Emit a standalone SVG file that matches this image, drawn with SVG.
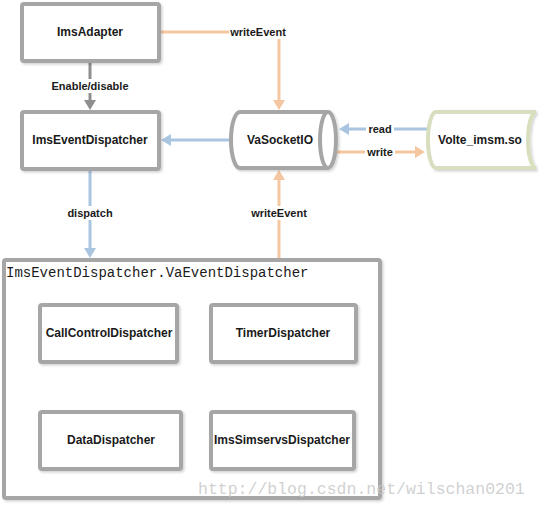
<svg xmlns="http://www.w3.org/2000/svg" width="539" height="511" viewBox="0 0 539 511">
<style>
.box{fill:#fff;stroke:#a6a6a6;stroke-width:4;filter:url(#sh)}
.nt{font-family:"Liberation Sans",Arial,sans-serif;font-weight:bold;font-size:12px;fill:#1a1a1a;text-anchor:middle;dominant-baseline:central}
.lb{font-family:"Liberation Sans",Arial,sans-serif;font-weight:bold;font-size:11px;fill:#1a1a1a;text-anchor:middle;dominant-baseline:central}
.lbg{fill:#fff}
.c{fill:none;stroke-width:3}
.or{stroke:#f5c7a1}
.bl{stroke:#a9c5df}
.gr{stroke:#8f8f8f}
</style>
<defs>
<filter id="sh" x="-10%" y="-10%" width="120%" height="130%">
<feDropShadow dx="1.5" dy="1.5" stdDeviation="0.8" flood-color="#000" flood-opacity="0.18"/>
</filter>
<marker id="ao" markerUnits="userSpaceOnUse" markerWidth="10" markerHeight="12" refX="0" refY="6" orient="auto"><path d="M0,0 L10,6 L0,12 z" fill="#f5c7a1"/></marker>
<marker id="ab" markerUnits="userSpaceOnUse" markerWidth="10" markerHeight="12" refX="0" refY="6" orient="auto"><path d="M0,0 L10,6 L0,12 z" fill="#a9c5df"/></marker>
<marker id="ag" markerUnits="userSpaceOnUse" markerWidth="10" markerHeight="12" refX="0" refY="6" orient="auto"><path d="M0,0 L10,6 L0,12 z" fill="#8f8f8f"/></marker>
</defs>
<rect width="539" height="511" fill="#fff"/>

<g id="connectors">
<path class="c gr" d="M90,63 V100" marker-end="url(#ag)"/>
<path class="c or" d="M161,32 H279 V100" marker-end="url(#ao)"/>
<path class="c bl" d="M232,140 H171" marker-end="url(#ab)"/>
<path class="c bl" d="M428,129 H349" marker-end="url(#ab)"/>
<path class="c or" d="M336,152 H415" marker-end="url(#ao)"/>
<path class="c bl" d="M90,169 V248" marker-end="url(#ab)"/>
<path class="c or" d="M279,258 V180" marker-end="url(#ao)"/>
<rect class="lbg" x="50" y="79" width="80" height="14"/>
<text class="lb" x="90" y="86">Enable/disable</text>
<rect class="lbg" x="229" y="25" width="58" height="14"/>
<text class="lb" x="258" y="32">writeEvent</text>
<rect class="lbg" x="366" y="122" width="28" height="14"/>
<text class="lb" x="380" y="129">read</text>
<rect class="lbg" x="365" y="145" width="30" height="14"/>
<text class="lb" x="380" y="152">write</text>
<rect class="lbg" x="66" y="206" width="48" height="14"/>
<text class="lb" x="90" y="213">dispatch</text>
<rect class="lbg" x="250" y="206" width="58" height="14"/>
<text class="lb" x="279" y="213">writeEvent</text>
</g>

<g id="ImsAdapter">
<rect class="box" x="22" y="4" width="137" height="57" rx="2"/>
<text class="nt" x="90" y="32">ImsAdapter</text>
</g>
<g id="ImsEventDispatcher">
<rect class="box" x="22" y="112" width="137" height="57" rx="2"/>
<text class="nt" x="90" y="140">ImsEventDispatcher</text>
</g>
<g id="VaSocketIO">
<path class="box" d="M240,112 H328 A8 28 0 0 1 328 168 H240 A9 28 0 0 1 240 112 Z"/>
<path d="M328,112 A8 28 0 0 0 328 168" fill="none" stroke="#a6a6a6" stroke-width="4"/>
<text class="nt" x="280" y="140">VaSocketIO</text>
</g>
<g id="Volte_imsm">
<path class="box" style="stroke:#d7dfbf" d="M436,112 H536 A8 28 0 0 0 536 168 H436 A8 28 0 0 1 436 112 Z"/>
<text class="nt" x="480" y="140">Volte_imsm.so</text>
</g>
<g id="VaEventDispatcher">
<rect class="box" x="4" y="260" width="376" height="238" rx="2"/>
<text x="6" y="277" font-family="'Liberation Mono','DejaVu Sans Mono',monospace" font-size="14" fill="#1a1a1a">ImsEventDispatcher.VaEventDispatcher</text>
</g>
<g id="CallControlDispatcher">
<rect class="box" x="40" y="305" width="137" height="57" rx="2"/>
<text class="nt" x="109" y="333">CallControlDispatcher</text>
</g>
<g id="TimerDispatcher">
<rect class="box" x="211" y="305" width="145" height="57" rx="2"/>
<text class="nt" x="283" y="333">TimerDispatcher</text>
</g>
<g id="DataDispatcher">
<rect class="box" x="40" y="412" width="141" height="57" rx="2"/>
<text class="nt" x="111" y="440">DataDispatcher</text>
</g>
<g id="ImsSimservsDispatcher">
<rect class="box" x="211" y="412" width="143" height="57" rx="2"/>
<text class="nt" x="282" y="440">ImsSimservsDispatcher</text>
</g>
<text x="198" y="494" font-family="'Liberation Mono','DejaVu Sans Mono',monospace" font-size="16.5" fill="#c8c8c8" fill-opacity="0.85">http://blog.csdn.net/wilschan0201</text>
</svg>
